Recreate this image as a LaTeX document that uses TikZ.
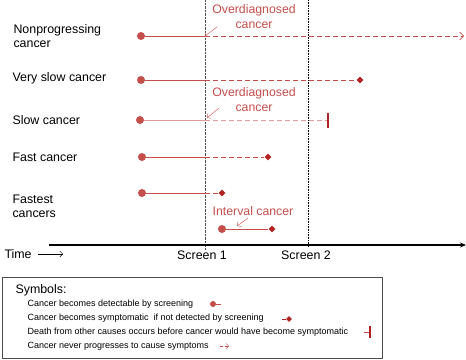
\documentclass[tikz,border=0pt]{standalone}
\usepackage{fontspec}
\setmainfont{Liberation Sans}
\usetikzlibrary{shapes.geometric,arrows.meta}
\definecolor{cred}{RGB}{196,78,76}
\definecolor{dred}{RGB}{178,34,34}
\begin{document}
\begin{tikzpicture}[x=1pt, y=-1pt, every node/.style={font=\fontsize{12.4}{14.2}\selectfont},
  onset/.style={circle, fill=cred, inner sep=0pt, minimum size=8pt},
  sympt/.style={diamond, fill=dred, inner sep=0pt, minimum size=7pt},
  rowlbl/.style={anchor=west, align=left},
  seen/.style={cred, semithick},
  unseen/.style={cred, semithick, dash pattern=on 5pt off 3pt},
  redlbl/.style={text=cred, align=center, font=\fontsize{12.3}{15}\selectfont},
  pointer/.style={cred, thin, -{Straight Barb[length=3pt]}},
  keytext/.style={anchor=west, font=\fontsize{9}{10}\selectfont}]
  \useasboundingbox (0,0) rectangle (466,359);
  % screening rounds
  \coordinate (s1a) at (205,0);  \coordinate (s1b) at (205,250);
  \coordinate (s2a) at (308,0);  \coordinate (s2b) at (308,247);
  \draw[black!70, thin, densely dotted] (s1a) -- (s1b);
  \draw[black, semithick, densely dotted] (s2a) -- (s2b);
  % row labels
  \node[rowlbl] (r1) at (10,36) {Nonprogressing\\cancer};
  \node[rowlbl] (r2) at (9,78) {Very slow cancer};
  \node[rowlbl] (r3) at (9,120) {Slow cancer};
  \node[rowlbl] (r4) at (9,157) {Fast cancer};
  \node[rowlbl] (r5) at (9,206) {Fastest\\cancers};
  % nonprogressing
  \node[onset] (d1) at (141,36) {};
  \coordinate (c1) at (205,36);
  \coordinate (e1) at (464,36);
  \draw[seen] (d1) -- (c1);
  \draw[unseen, -{Straight Barb[length=4pt]}] (c1) -- (e1);
  \node[redlbl] (o1) at (254,17) {Overdiagnosed\\cancer};
  \coordinate (o1p) at (217,27);
  \draw[pointer] (o1p) -- (c1);
  % very slow
  \node[onset] (d2) at (141,80) {};
  \coordinate (c2) at (205,80);
  \node[sympt] (e2) at (360,80) {};
  \draw[seen] (d2) -- (c2);
  \draw[unseen] (c2) -- (e2);
  % slow
  \node[onset] (d3) at (140,120) {};
  \coordinate (c3) at (205,120);
  \coordinate (e3) at (327,120);
  \coordinate (e3a) at (328,113); \coordinate (e3b) at (328,128);
  \draw[cred!55, semithick] (d3) -- (c3);
  \draw[cred!55, semithick, dash pattern=on 5pt off 3pt] (c3) -- (e3);
  \draw[dred, line width=1.6pt] (e3a) -- (e3b);
  \node[redlbl] (o2) at (254,100) {Overdiagnosed\\cancer};
  \coordinate (o2p) at (219,108);
  \coordinate (o2q) at (207,118);
  \draw[pointer] (o2p) -- (o2q);
  % fast
  \node[onset] (d4) at (142,157) {};
  \coordinate (c4) at (205,157);
  \node[sympt] (e4) at (268,157) {};
  \draw[seen] (d4) -- (c4);
  \draw[unseen] (c4) -- (e4);
  % fastest
  \node[onset] (d5) at (142,193) {};
  \coordinate (c5) at (205,193);
  \node[sympt] (e5) at (222,193) {};
  \draw[seen] (d5) -- (c5);
  \draw[unseen] (c5) -- (e5);
  % interval cancer
  \node[redlbl] (iv) at (253,211) {Interval cancer};
  \node[onset] (d6) at (222,229) {};
  \node[sympt] (e6) at (272,229) {};
  \draw[seen] (d6) -- (e6);
  \coordinate (ivp) at (248,218);
  \coordinate (ivq) at (237,226);
  \draw[pointer] (ivp) -- (ivq);
  % time axis
  \coordinate (t0) at (49,245); \coordinate (t1) at (466,245);
  \draw[black, line width=1.3pt, -{Stealth[length=6pt, width=5pt]}] (t0) -- (t1);
  \node[anchor=west] (tm) at (1,254) {Time};
  \coordinate (ta) at (38,254); \coordinate (tb) at (63,254);
  \draw[black, thin, -{Straight Barb[length=3pt]}] (ta) -- (tb);
  \node (sc1) at (202,255) {Screen 1};
  \node (sc2) at (306,255) {Screen 2};
  % legend
  \node[draw=black!70, semithick, minimum width=380pt, minimum height=81pt, anchor=north west] (key) at (2,277) {};
  \node[anchor=west] (sym) at (12,290) {Symbols:};
  \node[keytext] (k1) at (24,304) {Cancer becomes detectable by screening};
  \node[keytext] (k2) at (24,318.5) {Cancer becomes symptomatic\ \ if not detected by screening};
  \node[keytext] (k3) at (24,332) {Death from other causes occurs before cancer would have become symptomatic};
  \node[keytext] (k4) at (24,346) {Cancer never progresses to cause symptoms};
  \node[onset, minimum size=6pt] (m1) at (213,304) {};
  \coordinate (m1b) at (221,304);
  \draw[cred, thin] (m1) -- (m1b);
  \node[sympt, minimum size=6pt] (m2) at (289,319) {};
  \coordinate (m2a) at (282,319);
  \draw[dred, thin] (m2a) -- (m2);
  \coordinate (m3a) at (364,332); \coordinate (m3b) at (369,332);
  \coordinate (m3c) at (370,326); \coordinate (m3d) at (370,338);
  \draw[cred, thin] (m3a) -- (m3b);
  \draw[dred, line width=1.3pt] (m3c) -- (m3d);
  \coordinate (m4a) at (220,346); \coordinate (m4b) at (229,346);
  \draw[cred, thin, dash pattern=on 3pt off 2pt, -{Straight Barb[length=2.5pt]}] (m4a) -- (m4b);
\end{tikzpicture}
\end{document}
